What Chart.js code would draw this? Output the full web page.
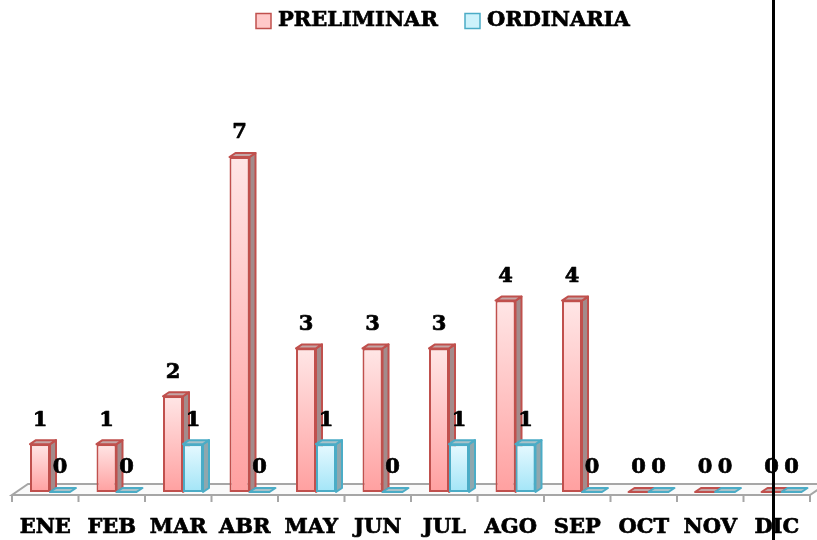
<!DOCTYPE html>
<html>
<head>
<meta charset="utf-8">
<script src="https://cdn.jsdelivr.net/npm/chart.js@4/dist/chart.umd.min.js"></script>
<style>
  html, body { margin: 0; padding: 0; background: #fff; }
  #wrap { width: 817px; height: 540px; }
</style>
</head>
<body>
<div id="wrap"><canvas id="grafico" width="817" height="540"></canvas></div>
<script>
// Datos
const meses = ['ENE', 'FEB', 'MAR', 'ABR', 'MAY', 'JUN', 'JUL', 'AGO', 'SEP', 'OCT', 'NOV', 'DIC'];
const preliminar = [1, 1, 2, 7, 3, 3, 3, 4, 4, 0, 0, 0];
const ordinaria = [0, 0, 1, 0, 1, 0, 1, 1, 0, 0, 0, 0];
const nombres = ['PRELIMINAR', 'ORDINARIA'];

const FAMILIA = "'DejaVu Serif', 'Liberation Serif', serif";
const FUENTE = "bold 21px " + FAMILIA;
const TRAZO = 0.7;
const estilos = [
    { borde: '#C0504D', claro: '#FFE6E6', oscuro: '#FFA0A0', caja: '#FFC9C9', lado: '#A38B8B', tapa: '#C4A6A6' },
    { borde: '#4BACC6', claro: '#E6F9FF', oscuro: '#A3E5F7', caja: '#CDF2FB', lado: '#8FA7AE', tapa: '#A9C2C9' }
];
const DX = 6, DY = 4, DESPL = 4.75;

function relleno(i) {
    return function (c) {
        if (c.type !== 'data') return estilos[i].caja;
        const y = c.chart.scales.y;
        const top = y.getPixelForValue(c.raw);
        const bot = y.getPixelForValue(0);
        if (!isFinite(top) || !isFinite(bot) || bot - top < 1) return estilos[i].claro;
        const g = c.chart.ctx.createLinearGradient(0, top, 0, bot);
        g.addColorStop(0, estilos[i].claro);
        g.addColorStop(1, estilos[i].oscuro);
        return g;
    };
}

function texto(ctx, t, x, y) {
    ctx.fillText(t, x, y);
    ctx.strokeText(t, x, y);
}

// caras laterales y superiores, o losa plana si el valor es 0
function extras(ctx, el, est) {
    const p = el.getProps(['x', 'y', 'base', 'width'], true);
    const x0 = p.x - p.width / 2, x1 = p.x + p.width / 2;
    const top = Math.min(p.y, p.base), base = Math.max(p.y, p.base);
    ctx.lineWidth = 2;
    ctx.lineJoin = 'round';
    ctx.strokeStyle = est.borde;
    if (base - top < 1) {
        ctx.beginPath();
        ctx.moveTo(x0, base);
        ctx.lineTo(x1, base);
        ctx.lineTo(x1 + DX, base - DY);
        ctx.lineTo(x0 + DX, base - DY);
        ctx.closePath();
        ctx.fillStyle = est.tapa;
        ctx.fill();
        ctx.stroke();
        return;
    }
    ctx.beginPath();
    ctx.moveTo(x1, top);
    ctx.lineTo(x1 + DX, top - DY);
    ctx.lineTo(x1 + DX, base - DY);
    ctx.lineTo(x1, base);
    ctx.closePath();
    ctx.fillStyle = est.lado;
    ctx.fill();
    ctx.stroke();
    ctx.beginPath();
    ctx.moveTo(x0, top);
    ctx.lineTo(x0 + DX, top - DY);
    ctx.lineTo(x1 + DX, top - DY);
    ctx.lineTo(x1, top);
    ctx.closePath();
    ctx.fillStyle = est.tapa;
    ctx.fill();
    ctx.stroke();
}

const barras3d = {
    id: 'barras3d',
    beforeDatasetsDraw(chart) {
        // piso 3D
        const ctx = chart.ctx, a = chart.chartArea;
        const frente = a.bottom + 3, fondo = a.bottom - 8;
        ctx.save();
        ctx.beginPath();
        ctx.moveTo(a.left, frente);
        ctx.lineTo(a.right, frente);
        ctx.lineTo(a.right + 16, fondo);
        ctx.lineTo(a.left + 16, fondo);
        ctx.closePath();
        ctx.fillStyle = '#FAFAFA';
        ctx.fill();
        ctx.strokeStyle = '#A6A6A6';
        ctx.lineWidth = 2;
        ctx.stroke();
        const cw = (a.right - a.left) / meses.length;
        ctx.beginPath();
        for (let k = 0; k <= meses.length; k++) {
            const x = a.left + k * cw;
            ctx.moveTo(x, frente);
            ctx.lineTo(x, frente + 7);
        }
        ctx.stroke();
        ctx.restore();
        ctx.save();
        ctx.translate(DESPL, 0);
    },
    afterDatasetsDraw(chart) {
        const ctx = chart.ctx;
        const m0 = chart.getDatasetMeta(0), m1 = chart.getDatasetMeta(1);
        m0.data.forEach(el => extras(ctx, el, estilos[0]));
        m1.data.forEach(el => { el.draw(ctx); extras(ctx, el, estilos[1]); });
        // etiquetas
        ctx.fillStyle = '#000';
        ctx.strokeStyle = '#000';
        ctx.lineWidth = TRAZO;
        ctx.font = FUENTE;
        ctx.textAlign = 'center';
        ctx.textBaseline = 'middle';
        [m0, m1].forEach((m, i) => {
            const datos = chart.data.datasets[i].data;
            m.data.forEach((el, j) => {
                const p = el.getProps(['x', 'y', 'base'], true);
                texto(ctx, String(datos[j]), p.x, Math.min(p.y, p.base) - 24);
            });
        });
        ctx.restore();
    },
    afterDraw(chart) {
        const ctx = chart.ctx;
        ctx.save();
        // leyenda
        const items = [[256, 278], [465, 487]];
        ctx.font = FUENTE;
        ctx.textBaseline = 'middle';
        ctx.textAlign = 'left';
        items.forEach((it, i) => {
            ctx.fillStyle = estilos[i].caja;
            ctx.fillRect(it[0], 13.5, 15, 15);
            ctx.strokeStyle = estilos[i].borde;
            ctx.lineWidth = 1.5;
            ctx.strokeRect(it[0], 13.5, 15, 15);
            ctx.fillStyle = '#000';
            ctx.strokeStyle = '#000';
            ctx.lineWidth = TRAZO;
            texto(ctx, nombres[i], it[1], 21);
        });
        // línea vertical
        ctx.fillStyle = '#000';
        ctx.fillRect(772, 0, 3, chart.height);
        ctx.restore();
    }
};

new Chart(document.getElementById('grafico'), {
    type: 'bar',
    data: {
        labels: meses,
        datasets: [
            {
                label: nombres[0],
                data: preliminar,
                backgroundColor: relleno(0),
                borderColor: estilos[0].borde,
                borderWidth: 2,
                borderSkipped: false,
                categoryPercentage: 0.6015,
                barPercentage: 1
            },
            {
                label: nombres[1],
                data: ordinaria,
                backgroundColor: relleno(1),
                borderColor: estilos[1].borde,
                borderWidth: 2,
                borderSkipped: false,
                categoryPercentage: 0.6015,
                barPercentage: 1
            }
        ]
    },
    options: {
        responsive: false,
        animation: false,
        layout: { padding: { left: 12, right: 7, top: 45, bottom: 0 } },
        plugins: {
            legend: { display: false },
            tooltip: { enabled: false }
        },
        scales: {
            x: {
                grid: { display: false, drawTicks: false },
                border: { display: false },
                afterFit(scale) {
                    scale.height = 48;
                    scale.paddingLeft = 0;
                    scale.paddingRight = 0;
                },
                ticks: {
                    color: '#000',
                    textStrokeColor: '#000',
                    textStrokeWidth: TRAZO,
                    font: { family: FAMILIA, size: 21, weight: 'bold' },
                    padding: 23,
                    maxRotation: 0,
                    autoSkip: false
                }
            },
            y: {
                display: false,
                min: 0,
                max: 9.34
            }
        }
    },
    plugins: [barras3d]
});
</script>
</body>
</html>
